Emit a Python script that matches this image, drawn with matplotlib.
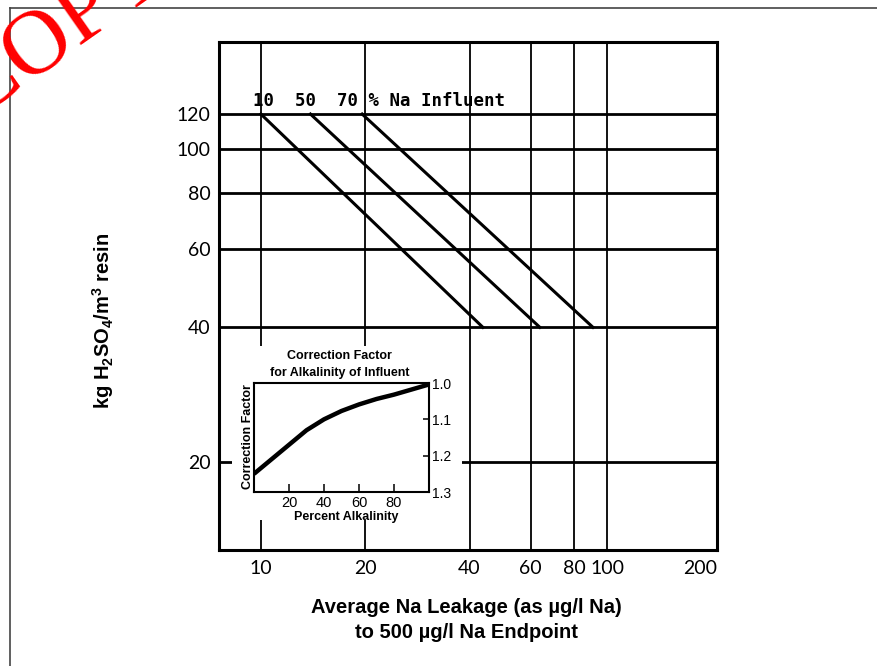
import matplotlib.pyplot as plt
from matplotlib.patches import Rectangle
from matplotlib.lines import Line2D
from matplotlib.ticker import NullLocator
from matplotlib.transforms import ScaledTranslation

# acid dose lines for each % Na in influent: leakage at 120 and at 40 kg/m3
influent_pct = [10, 50, 70]
leak_at_120 = [10.0, 13.9, 19.6]
leak_at_40 = [43.7, 63.8, 90.8]
dose_levels = [120, 40]

x_ticks = [10, 20, 40, 60, 80, 100, 200]
y_ticks = [20, 40, 60, 80, 100, 120]
x_grid = [10, 20, 40, 60, 80, 100]

# inset: correction factor vs percent alkalinity
alk_pct = [0, 10, 20, 30, 40, 50, 60, 70, 80, 90, 100]
corr_factor = [1.25, 1.21, 1.17, 1.13, 1.10, 1.077, 1.059, 1.044, 1.032, 1.018, 1.004]
cf_ticks = [1.0, 1.1, 1.2, 1.3]
alk_ticks = [20, 40, 60, 80]

plt.rcParams['font.family'] = 'Lato'

fig = plt.figure(figsize=(8.78, 6.66), dpi=100)

# page border and stamp
fig.add_artist(Line2D([10 / 878, 1], [1 - 8 / 666] * 2, transform=fig.transFigure,
                      color='#444444', lw=1.2))
fig.add_artist(Line2D([10 / 878] * 2, [0, 1 - 8 / 666], transform=fig.transFigure,
                      color='#444444', lw=1.2))
fig.text(0.070, 0.955, 'COPY', color='red', fontsize=66, family='Liberation Serif',
         rotation=35, rotation_mode='anchor', ha='center', va='center', zorder=10)

ax = fig.add_axes([0.2494, 0.1742, 0.5672, 0.7628])
ax.set_xscale('log')
ax.set_yscale('log')
ax.set_xlim(7.57, 207)
ax.set_ylim(12.7, 174)

for v in x_grid:
    ax.axvline(v, color='black', lw=1.3, zorder=1)
for v in y_ticks:
    ax.axhline(v, color='black', lw=2.0, zorder=1)

for a, b in zip(leak_at_120, leak_at_40):
    ax.plot([a, b], dose_levels, color='black', lw=2.2, zorder=3)

ax.annotate(f'{influent_pct[0]}  {influent_pct[1]}  {influent_pct[2]} % Na Influent',
            xy=(leak_at_120[0], dose_levels[0]), xytext=(-8, 13),
            textcoords='offset pixels', ha='left', va='center',
            family='DejaVu Sans Mono', fontweight='bold', fontsize=12.5)

ax.set_xticks(x_ticks)
ax.set_xticklabels([str(t) for t in x_ticks])
ax.set_yticks(y_ticks)
ax.set_yticklabels([str(t) for t in y_ticks])
ax.xaxis.set_minor_locator(NullLocator())
ax.yaxis.set_minor_locator(NullLocator())
ax.tick_params(axis='both', length=0, labelsize=14)
ax.tick_params(axis='x', pad=7)
ax.tick_params(axis='y', pad=6)
# the last label sits tucked inside the right edge
last = ax.get_xticklabels()[-1]
last.set_transform(last.get_transform() + ScaledTranslation(-0.12, 0, fig.dpi_scale_trans))
for s in ax.spines.values():
    s.set_linewidth(2.2)

# blank area behind the inset
ax.add_patch(Rectangle((0.026, 0.059), 0.462, 0.343, transform=ax.transAxes,
                       facecolor='white', edgecolor='none', zorder=4))

fig.text(103 / 878, 1 - 321 / 666,
         r'kg H$_\mathregular{2}$SO$_\mathregular{4}$/m$^\mathregular{3}$ resin',
         rotation=90, ha='center', va='center', family='Liberation Sans',
         fontweight='bold', fontsize=14.5)
fig.text(466 / 878, 1 - 620 / 666,
         'Average Na Leakage (as µg/l Na)\nto 500 µg/l Na Endpoint',
         ha='center', va='center', family='Liberation Sans', fontweight='bold',
         fontsize=14.5, linespacing=1.35)

# inset
ax_in = fig.add_axes([254 / 878, 1 - 492 / 666, 175 / 878, 109 / 666])
ax_in.plot(alk_pct, corr_factor, color='black', lw=3.2, solid_capstyle='butt')
ax_in.set_xlim(0, 100)
ax_in.set_ylim(1.3, 1.0)
ax_in.yaxis.tick_right()
ax_in.set_yticks(cf_ticks)
ax_in.set_yticklabels([f'{t:.1f}' for t in cf_ticks])
ax_in.set_xticks(alk_ticks)
ax_in.set_xticklabels([str(t) for t in alk_ticks])
ax_in.tick_params(axis='x', direction='in', length=6, width=1.1, pad=3,
                  labelsize=10.5, labelfontfamily='Liberation Sans')
ax_in.tick_params(axis='y', direction='in', length=4, width=1.1, pad=2,
                  labelsize=10, labelfontfamily='Liberation Sans')
for s in ax_in.spines.values():
    s.set_linewidth(1.5)

ax_in.text(0.491, 1.248, 'Correction Factor', transform=ax_in.transAxes,
           ha='center', va='center', family='Liberation Sans', fontweight='bold',
           fontsize=9)
ax_in.text(0.491, 1.092, 'for Alkalinity of Influent', transform=ax_in.transAxes,
           ha='center', va='center', family='Liberation Sans', fontweight='bold',
           fontsize=9)
ax_in.text(0.526, -0.229, 'Percent Alkalinity', transform=ax_in.transAxes,
           ha='center', va='center', family='Liberation Sans', fontweight='bold',
           fontsize=9)
ax_in.text(-0.034, 0.505, 'Correction Factor', transform=ax_in.transAxes,
           rotation=90, ha='center', va='center', family='Liberation Sans',
           fontweight='bold', fontsize=9)

fig.savefig('out.png', dpi=100)
